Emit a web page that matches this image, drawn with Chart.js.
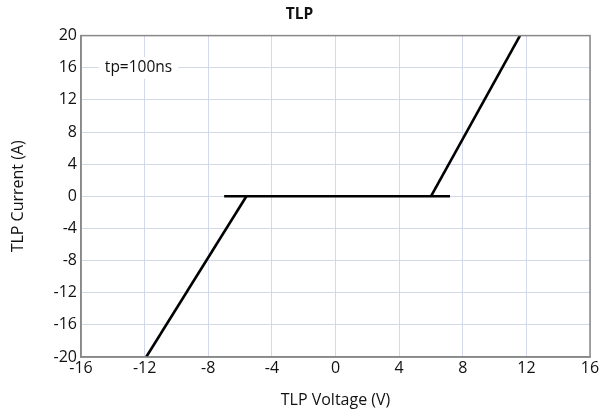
<!DOCTYPE html>
<html>
<head>
<meta charset="utf-8">
<script src="https://cdn.jsdelivr.net/npm/chart.js@4"></script>
<style>
html,body{margin:0;padding:0;background:#fff;}
#wrap{width:604px;height:414px;}
</style>
</head>
<body>
<div id="wrap"><canvas id="c" width="604" height="414"></canvas></div>
<script>
const negVoltage = [-11.9, -5.6];
const negCurrent = [-20, 0];
const holdVoltage = [-7.0, 7.2];
const holdCurrent = [0, 0];
const posVoltage = [6.0, 11.6];
const posCurrent = [0, 20];
const xTicks = [-16, -12, -8, -4, 0, 4, 8, 12, 16];
const yTicks = [-20, -16, -12, -8, -4, 0, 4, 8, 12, 16, 20];
const noteText = "tp=100ns";
const noteAt = [-14.5, 16];

function pts(xs, ys){ return xs.map((x,i)=>({x:x, y:ys[i]})); }
const FONT = "'Open Sans', 'DejaVu Sans', sans-serif";

const notePlugin = {
  id:'note',
  afterDatasetsDraw(chart){
    const {ctx, scales:{x,y}} = chart;
    ctx.save();
    ctx.font = "15.5px " + FONT;
    const px = x.getPixelForValue(noteAt[0]);
    const py = y.getPixelForValue(noteAt[1]);
    const w = ctx.measureText(noteText).width;
    ctx.fillStyle = '#fff';
    ctx.fillRect(px-6, py-11, w+12, 22);
    ctx.fillStyle = '#111';
    ctx.textBaseline = 'middle';
    ctx.fillText(noteText, px, py);
    ctx.restore();
  }
};

const ds = (xs, ys) => ({
  data: pts(xs, ys), showLine: true, borderColor: '#000', borderWidth: 2.6,
  pointRadius: 0, fill: false, tension: 0
});

new Chart(document.getElementById('c'), {
  type: 'scatter',
  data: { datasets: [ds(negVoltage, negCurrent), ds(holdVoltage, holdCurrent), ds(posVoltage, posCurrent)] },
  options: {
    responsive: false, animation: false,
    layout: { padding: { left: 9, right: 14, top: 0, bottom: 4 } },
    plugins: {
      legend: { display: false },
      tooltip: { enabled: false },
      title: { display: true, text: 'TLP', color: '#111', font: { family: FONT, size: 15.5, weight: 'bold' }, padding: { top: 5, bottom: 12 } }
    },
    scales: {
      x: {
        type: 'linear', min: -16, max: 16,
        afterBuildTicks: s => { s.ticks = xTicks.map(v => ({value: v})); },
        afterFit: s => { s.height = 53; },
        grid: { color: '#d3d8ea', lineWidth: 1, drawTicks: false },
        border: { color: '#888', width: 1.5 },
        ticks: { color: '#111', font: { family: FONT, size: 16 }, padding: 2, maxRotation: 0 },
        title: { display: true, text: 'TLP Voltage (V)', color: '#111', font: { family: FONT, size: 16 }, padding: { top: 4, bottom: 0 } }
      },
      y: {
        type: 'linear', min: -20, max: 20,
        afterBuildTicks: s => { s.ticks = yTicks.map(v => ({value: v})); },
        afterFit: s => { s.width = 72; },
        grid: { color: '#d3d8ea', lineWidth: 1, drawTicks: false },
        border: { color: '#888', width: 1.5 },
        ticks: { color: '#111', font: { family: FONT, size: 16 }, padding: 4 },
        title: { display: true, text: 'TLP Current (A)', color: '#111', font: { family: FONT, size: 16 }, padding: { top: 0, bottom: 0 } }
      }
    }
  },
  plugins: [notePlugin, {
    id: 'frame',
    afterDraw(chart){
      const {ctx, chartArea:a} = chart;
      ctx.save(); ctx.strokeStyle = '#888'; ctx.lineWidth = 1.5;
      ctx.strokeRect(a.left, a.top, a.right - a.left, a.bottom - a.top);
      ctx.restore();
    }
  }]
});
</script>
</body>
</html>
